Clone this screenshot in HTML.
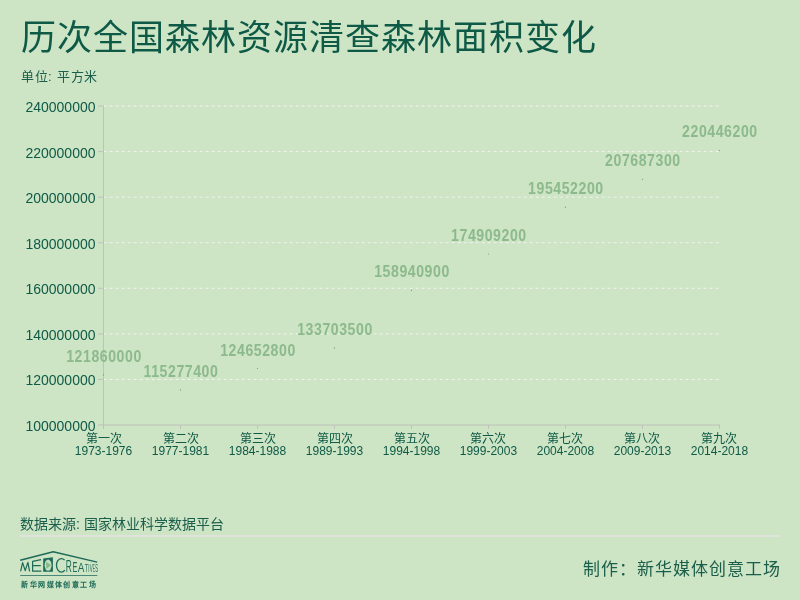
<!DOCTYPE html>
<html lang="zh-CN"><head><meta charset="utf-8">
<style>
html,body{margin:0;padding:0;}
body{width:800px;height:600px;background:#cde4c5;position:relative;overflow:hidden;font-family:"Liberation Sans",sans-serif;}
.t{position:absolute;white-space:nowrap;line-height:1;}
svg{position:absolute;left:0;top:0;font-family:"Liberation Sans",sans-serif;will-change:transform;}
.t{will-change:transform;}
</style></head><body>
<div class="t" style="left:21px;top:20px;font-size:35px;letter-spacing:1px;font-weight:350;color:#0e5a46;">历次全国森林资源清查森林面积变化</div>
<div class="t" style="left:20.5px;top:70px;font-size:13px;letter-spacing:0.5px;word-spacing:1px;color:#1a5e4b;">单位: 平方米</div>
<div class="t" style="left:20px;top:517px;font-size:14px;color:#1a5e4b;">数据来源: 国家林业科学数据平台</div>
<div class="t" style="left:582.5px;top:561px;font-size:17px;letter-spacing:1px;color:#1a5e4b;">制作：新华媒体创意工场</div>
<svg width="800" height="600" viewBox="0 0 800 600">
<line x1="103.7" y1="379.43" x2="720" y2="379.43" stroke="#f0f4ee" stroke-width="1" stroke-dasharray="3 3"/>
<line x1="103.7" y1="333.86" x2="720" y2="333.86" stroke="#f0f4ee" stroke-width="1" stroke-dasharray="3 3"/>
<line x1="103.7" y1="288.29" x2="720" y2="288.29" stroke="#f0f4ee" stroke-width="1" stroke-dasharray="3 3"/>
<line x1="103.7" y1="242.71" x2="720" y2="242.71" stroke="#f0f4ee" stroke-width="1" stroke-dasharray="3 3"/>
<line x1="103.7" y1="197.14" x2="720" y2="197.14" stroke="#f0f4ee" stroke-width="1" stroke-dasharray="3 3"/>
<line x1="103.7" y1="151.57" x2="720" y2="151.57" stroke="#f0f4ee" stroke-width="1" stroke-dasharray="3 3"/>
<line x1="103.7" y1="106.00" x2="720" y2="106.00" stroke="#f0f4ee" stroke-width="1" stroke-dasharray="3 3"/>
<text x="95.5" y="430.9" text-anchor="end" font-size="14" fill="#0e5a46">100000000</text>
<line x1="98" y1="379.43" x2="103" y2="379.43" stroke="#c0c0c0" stroke-width="1"/>
<text x="95.5" y="385.3" text-anchor="end" font-size="14" fill="#0e5a46">120000000</text>
<line x1="98" y1="333.86" x2="103" y2="333.86" stroke="#c0c0c0" stroke-width="1"/>
<text x="95.5" y="339.8" text-anchor="end" font-size="14" fill="#0e5a46">140000000</text>
<line x1="98" y1="288.29" x2="103" y2="288.29" stroke="#c0c0c0" stroke-width="1"/>
<text x="95.5" y="294.2" text-anchor="end" font-size="14" fill="#0e5a46">160000000</text>
<line x1="98" y1="242.71" x2="103" y2="242.71" stroke="#c0c0c0" stroke-width="1"/>
<text x="95.5" y="248.6" text-anchor="end" font-size="14" fill="#0e5a46">180000000</text>
<line x1="98" y1="197.14" x2="103" y2="197.14" stroke="#c0c0c0" stroke-width="1"/>
<text x="95.5" y="203.0" text-anchor="end" font-size="14" fill="#0e5a46">200000000</text>
<line x1="98" y1="151.57" x2="103" y2="151.57" stroke="#c0c0c0" stroke-width="1"/>
<text x="95.5" y="157.5" text-anchor="end" font-size="14" fill="#0e5a46">220000000</text>
<line x1="98" y1="106.00" x2="103" y2="106.00" stroke="#c0c0c0" stroke-width="1"/>
<text x="95.5" y="111.9" text-anchor="end" font-size="14" fill="#0e5a46">240000000</text>
<line x1="103.5" y1="105.4" x2="103.5" y2="428.9" stroke="#c0c0c0" stroke-width="1"/>
<line x1="98" y1="425" x2="720" y2="425" stroke="#bcc0b8" stroke-width="1"/>
<line x1="103.5" y1="425" x2="103.5" y2="428.9" stroke="#c0c0c0" stroke-width="1"/>
<text x="103.5" y="442.5" text-anchor="middle" font-size="12" fill="#0e5a46">第一次</text>
<text x="103.5" y="455" text-anchor="middle" font-size="12" fill="#0e5a46">1973-1976</text>
<line x1="180.5" y1="425" x2="180.5" y2="428.9" stroke="#c0c0c0" stroke-width="1"/>
<text x="180.5" y="442.5" text-anchor="middle" font-size="12" fill="#0e5a46">第二次</text>
<text x="180.5" y="455" text-anchor="middle" font-size="12" fill="#0e5a46">1977-1981</text>
<line x1="257.5" y1="425" x2="257.5" y2="428.9" stroke="#c0c0c0" stroke-width="1"/>
<text x="257.5" y="442.5" text-anchor="middle" font-size="12" fill="#0e5a46">第三次</text>
<text x="257.5" y="455" text-anchor="middle" font-size="12" fill="#0e5a46">1984-1988</text>
<line x1="334.5" y1="425" x2="334.5" y2="428.9" stroke="#c0c0c0" stroke-width="1"/>
<text x="334.5" y="442.5" text-anchor="middle" font-size="12" fill="#0e5a46">第四次</text>
<text x="334.5" y="455" text-anchor="middle" font-size="12" fill="#0e5a46">1989-1993</text>
<line x1="411.5" y1="425" x2="411.5" y2="428.9" stroke="#c0c0c0" stroke-width="1"/>
<text x="411.5" y="442.5" text-anchor="middle" font-size="12" fill="#0e5a46">第五次</text>
<text x="411.5" y="455" text-anchor="middle" font-size="12" fill="#0e5a46">1994-1998</text>
<line x1="488.5" y1="425" x2="488.5" y2="428.9" stroke="#c0c0c0" stroke-width="1"/>
<text x="488.4" y="442.5" text-anchor="middle" font-size="12" fill="#0e5a46">第六次</text>
<text x="488.4" y="455" text-anchor="middle" font-size="12" fill="#0e5a46">1999-2003</text>
<line x1="565.5" y1="425" x2="565.5" y2="428.9" stroke="#c0c0c0" stroke-width="1"/>
<text x="565.4" y="442.5" text-anchor="middle" font-size="12" fill="#0e5a46">第七次</text>
<text x="565.4" y="455" text-anchor="middle" font-size="12" fill="#0e5a46">2004-2008</text>
<line x1="642.5" y1="425" x2="642.5" y2="428.9" stroke="#c0c0c0" stroke-width="1"/>
<text x="642.4" y="442.5" text-anchor="middle" font-size="12" fill="#0e5a46">第八次</text>
<text x="642.4" y="455" text-anchor="middle" font-size="12" fill="#0e5a46">2009-2013</text>
<line x1="719.5" y1="425" x2="719.5" y2="428.9" stroke="#c0c0c0" stroke-width="1"/>
<text x="719.4" y="442.5" text-anchor="middle" font-size="12" fill="#0e5a46">第九次</text>
<text x="719.4" y="455" text-anchor="middle" font-size="12" fill="#0e5a46">2014-2018</text>
<circle cx="103.5" cy="374.9" r="0.6" fill="#6a9f82"/>
<text transform="translate(104.0,361.9) scale(0.87,1)" x="0" y="0" text-anchor="middle" font-size="16.2" font-weight="bold" fill="#8cba8c" letter-spacing="0.65">121860000</text>
<circle cx="180.5" cy="389.9" r="0.6" fill="#6a9f82"/>
<text transform="translate(181.0,376.9) scale(0.87,1)" x="0" y="0" text-anchor="middle" font-size="16.2" font-weight="bold" fill="#8cba8c" letter-spacing="0.65">115277400</text>
<circle cx="257.5" cy="368.5" r="0.6" fill="#6a9f82"/>
<text transform="translate(258.0,355.5) scale(0.87,1)" x="0" y="0" text-anchor="middle" font-size="16.2" font-weight="bold" fill="#8cba8c" letter-spacing="0.65">124652800</text>
<circle cx="334.5" cy="347.9" r="0.6" fill="#6a9f82"/>
<text transform="translate(335.0,334.9) scale(0.87,1)" x="0" y="0" text-anchor="middle" font-size="16.2" font-weight="bold" fill="#8cba8c" letter-spacing="0.65">133703500</text>
<circle cx="411.5" cy="290.4" r="0.6" fill="#6a9f82"/>
<text transform="translate(412.0,277.4) scale(0.87,1)" x="0" y="0" text-anchor="middle" font-size="16.2" font-weight="bold" fill="#8cba8c" letter-spacing="0.65">158940900</text>
<circle cx="488.4" cy="254.0" r="0.6" fill="#6a9f82"/>
<text transform="translate(488.9,241.0) scale(0.87,1)" x="0" y="0" text-anchor="middle" font-size="16.2" font-weight="bold" fill="#8cba8c" letter-spacing="0.65">174909200</text>
<circle cx="565.4" cy="207.2" r="0.6" fill="#6a9f82"/>
<text transform="translate(565.9,194.2) scale(0.87,1)" x="0" y="0" text-anchor="middle" font-size="16.2" font-weight="bold" fill="#8cba8c" letter-spacing="0.65">195452200</text>
<circle cx="642.4" cy="179.3" r="0.6" fill="#6a9f82"/>
<text transform="translate(642.9,166.3) scale(0.87,1)" x="0" y="0" text-anchor="middle" font-size="16.2" font-weight="bold" fill="#8cba8c" letter-spacing="0.65">207687300</text>
<circle cx="719.4" cy="150.3" r="0.6" fill="#6a9f82"/>
<text transform="translate(719.9,137.3) scale(0.87,1)" x="0" y="0" text-anchor="middle" font-size="16.2" font-weight="bold" fill="#8cba8c" letter-spacing="0.65">220446200</text>
<rect x="20" y="535" width="760" height="2" fill="#e0e3dc"/>
<g fill="none" stroke="#1d6a58" stroke-width="1.2" stroke-linejoin="round">
<polyline points="20.2,560.3 53.2,551.8 97.2,562.1" stroke-width="1.4"/>
<polyline points="20.6,571.4 22.6,562.6 25.2,570.6 27.9,562.4 29.6,571.4"/>
<path d="M41,559.6 L32.6,561.3 L32.6,571.2 L41.4,571.2 M32.6,565.6 L40.8,565.6"/>
<path d="M64.6,560.2 A4.9,6.8 0 1 0 64.8,570.2" stroke-width="1.3"/>
</g>
<polygon points="43.2,558.6 52.9,557.2 52.9,571.8 43.2,571.8" fill="#1d6a58"/>
<ellipse cx="48.1" cy="565.2" rx="3.5" ry="5.6" fill="#c4dfbf"/>
<polygon points="46.2,561.8 51.2,565.2 46.2,568.8" fill="#86bb86"/>
<text x="65.8" y="572" font-size="16.4" fill="#1d6a58" textLength="6.0" lengthAdjust="spacingAndGlyphs" font-family="Liberation Sans, sans-serif">R</text>
<text x="72.4" y="572" font-size="14.4" fill="#1d6a58" textLength="4.8" lengthAdjust="spacingAndGlyphs" font-family="Liberation Sans, sans-serif">E</text>
<text x="77.8" y="572" font-size="12.8" fill="#1d6a58" textLength="6.6" lengthAdjust="spacingAndGlyphs" font-family="Liberation Sans, sans-serif">A</text>
<text x="84.7" y="572" font-size="11.0" fill="#1d6a58" textLength="3.3" lengthAdjust="spacingAndGlyphs" font-family="Liberation Sans, sans-serif">T</text>
<text x="88.3" y="572" font-size="10.6" fill="#1d6a58" textLength="1.2" lengthAdjust="spacingAndGlyphs" font-family="Liberation Sans, sans-serif">I</text>
<text x="89.8" y="572" font-size="10.4" fill="#1d6a58" textLength="3.0" lengthAdjust="spacingAndGlyphs" font-family="Liberation Sans, sans-serif">V</text>
<text x="93.1" y="572" font-size="10.2" fill="#1d6a58" textLength="1.8" lengthAdjust="spacingAndGlyphs" font-family="Liberation Sans, sans-serif">E</text>
<text x="95.2" y="572" font-size="10.0" fill="#1d6a58" textLength="2.7" lengthAdjust="spacingAndGlyphs" font-family="Liberation Sans, sans-serif">S</text>
<rect x="20.2" y="575" width="77.2" height="1" fill="#4a8776"/>
<text x="21.4" y="586.6" font-size="7" font-weight="bold" fill="#1d6a58" letter-spacing="1.42" font-family="Liberation Serif, serif">新华网媒体创意工场</text>
</svg>
</body></html>
